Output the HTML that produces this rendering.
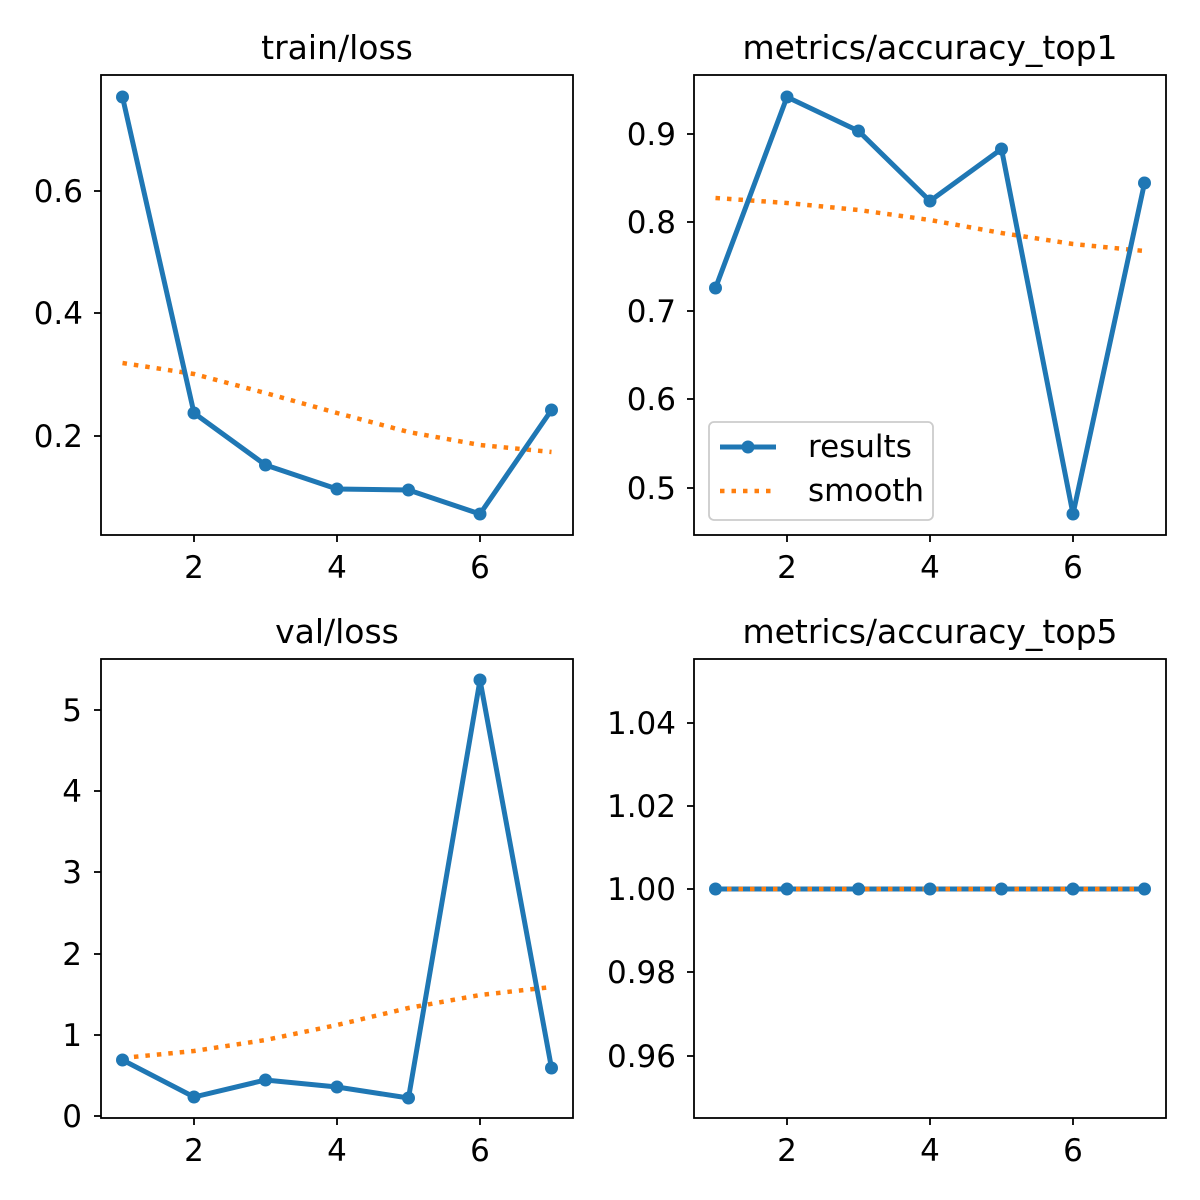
<!DOCTYPE html>
<html><head><style>body{margin:0;background:#fff}svg{display:block}text{font-family:"DejaVu Sans","Liberation Sans",sans-serif;fill:#000}</style></head>
<body>
<svg width="1200" height="1200" viewBox="0 0 1200 1200" xmlns="http://www.w3.org/2000/svg">
<rect width="1200" height="1200" fill="#fff"/>
<g font-size="31">
<!-- Panel 1 -->
<text x="337" y="59" font-size="33" text-anchor="middle">train/loss</text>
<polyline fill="none" stroke="#ff7f0e" stroke-width="4.5" stroke-dasharray="4.5,7" points="122.5,363 194,374 265.5,393 337,413 408.5,432 480,445 551.5,452"/>
<polyline fill="none" stroke="#1f77b4" stroke-width="5" points="122.5,97 194,413 265.5,465 337,489 408.5,490 480,514 551.5,410"/>
<g fill="#1f77b4"><circle cx="122.5" cy="97" r="6.5"/><circle cx="194" cy="413" r="6.5"/><circle cx="265.5" cy="465" r="6.5"/><circle cx="337" cy="489" r="6.5"/><circle cx="408.5" cy="490" r="6.5"/><circle cx="480" cy="514" r="6.5"/><circle cx="551.5" cy="410" r="6.5"/></g>
<rect x="101" y="75" width="472" height="460" fill="none" stroke="#000" stroke-width="1.8"/>
<g stroke="#000" stroke-width="1.8"><line x1="194" y1="535" x2="194" y2="542"/><line x1="337" y1="535" x2="337" y2="542"/><line x1="480" y1="535" x2="480" y2="542"/><line x1="94" y1="191" x2="101" y2="191"/><line x1="94" y1="313" x2="101" y2="313"/><line x1="94" y1="436" x2="101" y2="436"/></g>
<text x="194" y="578" text-anchor="middle">2</text><text x="337" y="578" text-anchor="middle">4</text><text x="480" y="578" text-anchor="middle">6</text>
<text x="83" y="202" text-anchor="end">0.6</text><text x="83" y="324" text-anchor="end">0.4</text><text x="83" y="447" text-anchor="end">0.2</text>

<!-- Panel 2 -->
<text x="930" y="59" font-size="33" text-anchor="middle">metrics/accuracy_top1</text>
<polyline fill="none" stroke="#ff7f0e" stroke-width="4.5" stroke-dasharray="4.5,7" points="715.5,198 787,203 858.5,210 930,220 1001.5,233 1073,244 1144.5,251"/>
<polyline fill="none" stroke="#1f77b4" stroke-width="5" points="715.5,288 787,97 858.5,131 930,201 1001.5,149 1073,514 1144.5,183"/>
<g fill="#1f77b4"><circle cx="715.5" cy="288" r="6.5"/><circle cx="787" cy="97" r="6.5"/><circle cx="858.5" cy="131" r="6.5"/><circle cx="930" cy="201" r="6.5"/><circle cx="1001.5" cy="149" r="6.5"/><circle cx="1073" cy="514" r="6.5"/><circle cx="1144.5" cy="183" r="6.5"/></g>
<rect x="694" y="75" width="472" height="460" fill="none" stroke="#000" stroke-width="1.8"/>
<g stroke="#000" stroke-width="1.8"><line x1="787" y1="535" x2="787" y2="542"/><line x1="930" y1="535" x2="930" y2="542"/><line x1="1073" y1="535" x2="1073" y2="542"/>
<line x1="687" y1="134" x2="694" y2="134"/><line x1="687" y1="222" x2="694" y2="222"/><line x1="687" y1="311" x2="694" y2="311"/><line x1="687" y1="399" x2="694" y2="399"/><line x1="687" y1="488" x2="694" y2="488"/></g>
<text x="787" y="578" text-anchor="middle">2</text><text x="930" y="578" text-anchor="middle">4</text><text x="1073" y="578" text-anchor="middle">6</text>
<text x="676" y="145" text-anchor="end">0.9</text><text x="676" y="233" text-anchor="end">0.8</text><text x="676" y="322" text-anchor="end">0.7</text><text x="676" y="410" text-anchor="end">0.6</text><text x="676" y="499" text-anchor="end">0.5</text>
<rect x="709" y="422" width="224" height="98" rx="5" fill="#fff" fill-opacity="0.8" stroke="#ccc" stroke-width="1.8"/>
<line x1="720" y1="447" x2="776" y2="447" stroke="#1f77b4" stroke-width="5"/><circle cx="748" cy="447" r="6.5" fill="#1f77b4"/>
<line x1="720" y1="491" x2="776" y2="491" stroke="#ff7f0e" stroke-width="4.5" stroke-dasharray="4.5,7"/>
<text x="808" y="457">results</text><text x="808" y="501">smooth</text>

<!-- Panel 3 -->
<text x="337" y="643" font-size="33" text-anchor="middle">val/loss</text>
<polyline fill="none" stroke="#ff7f0e" stroke-width="4.5" stroke-dasharray="4.5,7" points="122.5,1058 194,1051 265.5,1040 337,1025 408.5,1008 480,995 551.5,987"/>
<polyline fill="none" stroke="#1f77b4" stroke-width="5" points="122.5,1060 194,1097 265.5,1080 337,1087 408.5,1098 480,680 551.5,1068"/>
<g fill="#1f77b4"><circle cx="122.5" cy="1060" r="6.5"/><circle cx="194" cy="1097" r="6.5"/><circle cx="265.5" cy="1080" r="6.5"/><circle cx="337" cy="1087" r="6.5"/><circle cx="408.5" cy="1098" r="6.5"/><circle cx="480" cy="680" r="6.5"/><circle cx="551.5" cy="1068" r="6.5"/></g>
<rect x="101" y="659" width="472" height="459" fill="none" stroke="#000" stroke-width="1.8"/>
<g stroke="#000" stroke-width="1.8"><line x1="194" y1="1118" x2="194" y2="1125"/><line x1="337" y1="1118" x2="337" y2="1125"/><line x1="480" y1="1118" x2="480" y2="1125"/>
<line x1="94" y1="1116" x2="101" y2="1116"/><line x1="94" y1="1035" x2="101" y2="1035"/><line x1="94" y1="954" x2="101" y2="954"/><line x1="94" y1="872" x2="101" y2="872"/><line x1="94" y1="791" x2="101" y2="791"/><line x1="94" y1="710" x2="101" y2="710"/></g>
<text x="194" y="1161" text-anchor="middle">2</text><text x="337" y="1161" text-anchor="middle">4</text><text x="480" y="1161" text-anchor="middle">6</text>
<text x="82" y="1127" text-anchor="end">0</text><text x="82" y="1046" text-anchor="end">1</text><text x="82" y="965" text-anchor="end">2</text><text x="82" y="883" text-anchor="end">3</text><text x="82" y="802" text-anchor="end">4</text><text x="82" y="721" text-anchor="end">5</text>

<!-- Panel 4 -->
<text x="930" y="643" font-size="33" text-anchor="middle">metrics/accuracy_top5</text>
<line x1="715.5" y1="889" x2="1144.5" y2="889" stroke="#1f77b4" stroke-width="5"/>
<line x1="715.5" y1="889" x2="1144.5" y2="889" stroke="#ff7f0e" stroke-width="4.5" stroke-dasharray="4.5,7"/>
<g fill="#1f77b4"><circle cx="715.5" cy="889" r="6.5"/><circle cx="787" cy="889" r="6.5"/><circle cx="858.5" cy="889" r="6.5"/><circle cx="930" cy="889" r="6.5"/><circle cx="1001.5" cy="889" r="6.5"/><circle cx="1073" cy="889" r="6.5"/><circle cx="1144.5" cy="889" r="6.5"/></g>
<rect x="694" y="659" width="472" height="459" fill="none" stroke="#000" stroke-width="1.8"/>
<g stroke="#000" stroke-width="1.8"><line x1="787" y1="1118" x2="787" y2="1125"/><line x1="930" y1="1118" x2="930" y2="1125"/><line x1="1073" y1="1118" x2="1073" y2="1125"/>
<line x1="687" y1="723" x2="694" y2="723"/><line x1="687" y1="806" x2="694" y2="806"/><line x1="687" y1="889" x2="694" y2="889"/><line x1="687" y1="972" x2="694" y2="972"/><line x1="687" y1="1056" x2="694" y2="1056"/></g>
<text x="787" y="1161" text-anchor="middle">2</text><text x="930" y="1161" text-anchor="middle">4</text><text x="1073" y="1161" text-anchor="middle">6</text>
<text x="676" y="734" text-anchor="end">1.04</text><text x="676" y="817" text-anchor="end">1.02</text><text x="676" y="900" text-anchor="end">1.00</text><text x="676" y="983" text-anchor="end">0.98</text><text x="676" y="1067" text-anchor="end">0.96</text>
</g>
</svg>
</body></html>
